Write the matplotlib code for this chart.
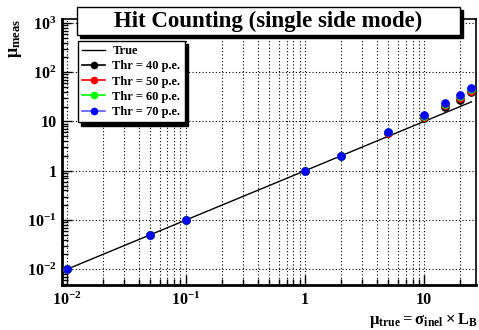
import matplotlib
matplotlib.use("Agg")
import matplotlib.pyplot as plt
from matplotlib.patches import Rectangle
from matplotlib.ticker import LogLocator, FixedLocator, FixedFormatter, NullFormatter

plt.rcParams['font.family'] = ['Liberation Serif', 'DejaVu Serif']
plt.rcParams['font.weight'] = 'bold'
plt.rcParams['mathtext.fontset'] = 'custom'
plt.rcParams['mathtext.rm'] = 'Liberation Serif:bold'
plt.rcParams['mathtext.it'] = 'Liberation Serif:bold'
plt.rcParams['mathtext.bf'] = 'Liberation Serif:bold'
plt.rcParams['mathtext.default'] = 'bf'

# data
mu_true = [0.01, 0.05, 0.1, 1, 2, 5, 10, 15, 20, 25]
thr40 = [0.01, 0.05, 0.1, 1.0, 2.0, 5.8, 12.0, 20.0, 27.5, 39.0]
thr50 = [0.01, 0.05, 0.1, 1.0, 2.0, 5.9, 12.6, 21.3, 30.0, 42.0]
thr60 = [0.01, 0.05, 0.1, 1.0, 2.0, 6.0, 13.2, 22.6, 32.5, 45.0]
thr70 = [0.01, 0.05, 0.1, 1.0, 2.0, 6.1, 13.8, 24.0, 35.0, 48.0]
series = [("Thr = 40 p.e.", thr40, "black", "black"),
          ("Thr = 50 p.e.", thr50, "red", "red"),
          ("Thr = 60 p.e.", thr60, "#00ff00", "#00ff00"),
          ("Thr = 70 p.e.", thr70, "blue", "#5a5aff")]
xticks = [0.01, 0.1, 1, 10]
xlabels = [r"$10^{-2}$", r"$10^{-1}$", "1", "10"]
yticks = [0.01, 0.1, 1, 10, 100, 1000]
ylabels = [r"$10^{-2}$", r"$10^{-1}$", "1", "10", r"$10^{2}$", r"$10^{3}$"]

W, H = 479, 330
fig = plt.figure(figsize=(W / 100, H / 100), dpi=100)
ax = fig.add_axes([62 / W, 1 - 285 / H, (476 - 62) / W, (285 - 19) / H])
ax.set_xscale("log")
ax.set_yscale("log")
ax.set_xlim(0.0091, 27.3)
ax.set_ylim(0.0048, 1200)

ax.plot([mu_true[0], mu_true[-1]], [mu_true[0], mu_true[-1]], color="black", lw=1, zorder=3)
handles = [plt.Line2D([], [], color="black", lw=1)]
for name, vals, c, lc in series:
    ax.plot(mu_true, vals, "o", color=c, ms=5.2, zorder=4)
    handles.append(plt.Line2D([], [], color=lc, lw=1.2, marker="o", ms=4.5,
                              markerfacecolor=c, markeredgecolor=c))

ax.xaxis.set_major_locator(FixedLocator(xticks))
ax.xaxis.set_major_formatter(FixedFormatter(xlabels))
ax.xaxis.set_minor_locator(LogLocator(base=10, subs=range(2, 10)))
ax.xaxis.set_minor_formatter(NullFormatter())
ax.yaxis.set_major_locator(FixedLocator(yticks))
ax.yaxis.set_major_formatter(FixedFormatter(ylabels))
ax.yaxis.set_minor_locator(LogLocator(base=10, subs=range(2, 10)))
ax.yaxis.set_minor_formatter(NullFormatter())

ax.tick_params(which="major", direction="in", length=7, width=1, labelsize=11.5)
ax.tick_params(which="minor", direction="in", length=4, width=1)
ax.tick_params(axis="x", pad=5)
ax.tick_params(axis="y", pad=4)
ax.grid(True, which="both", axis="x", color="black", lw=0.8, ls=(0, (1, 2)))
ax.grid(True, which="major", axis="y", color="black", lw=0.8, ls=(0, (1, 2)))
for s in ["top", "right"]:
    ax.spines[s].set_linewidth(1.2)
for s in ["left", "bottom"]:
    ax.spines[s].set_linewidth(2)

leg = ax.legend(handles, ["True"] + [s[0] for s in series],
                loc="upper left", bbox_to_anchor=(78 / W, 1 - 41 / H),
                bbox_transform=fig.transFigure, borderaxespad=0,
                fancybox=False, edgecolor="black", framealpha=1,
                prop={"size": 9, "weight": "bold"}, handlelength=1.8,
                handletextpad=0.6, labelspacing=0.25, borderpad=0.35,
                shadow={"color": "black", "alpha": 1, "ox": 2.5, "oy": -2.5})
leg.get_frame().set_linewidth(1)
leg.set_zorder(10)

# title box with shadow
tx0, tx1, ty0, ty1 = 77, 460, 7, 35
fig.patches.append(Rectangle(((tx0 + 3) / W, 1 - (ty1 + 3) / H), (tx1 - tx0) / W, (ty1 - ty0) / H,
                             transform=fig.transFigure, facecolor="black", edgecolor="black", zorder=5))
fig.patches.append(Rectangle((tx0 / W, 1 - ty1 / H), (tx1 - tx0) / W, (ty1 - ty0) / H,
                             transform=fig.transFigure, facecolor="white", edgecolor="black",
                             lw=1, zorder=6))
fig.text((tx0 + tx1) / 2 / W, 1 - (ty0 + ty1) / 2 / H, "Hit Counting (single side mode)",
         ha="center", va="center", fontsize=16.5, fontweight="bold", zorder=7)

fig.text(16 / W, 1 - 38 / H, r"$\mu_{meas}$", rotation=90, ha="center", va="center", fontsize=13)
fig.text(478 / W, 1 - 320 / H, r"$\mu_{true} = \sigma_{inel} \times L_{B}$",
         ha="right", va="center", fontsize=12)

fig.savefig("out.png", dpi=100)
